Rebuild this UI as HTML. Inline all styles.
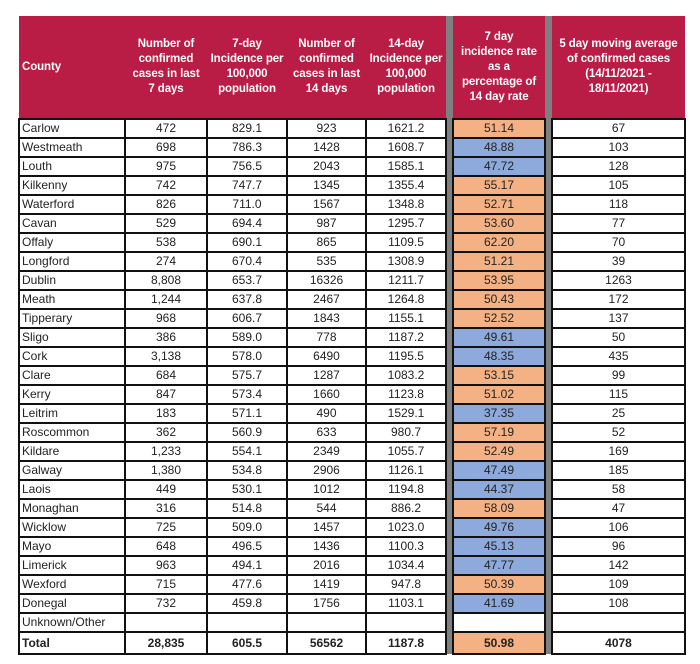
<!DOCTYPE html>
<html><head><style>
body{margin:0;background:#fff;width:700px;height:664px;overflow:hidden;font-family:"Liberation Sans",Arial,sans-serif;}
table{position:absolute;left:18px;top:16px;border-collapse:collapse;table-layout:fixed;width:666px;}
th{background:#B91C45;color:#fff;font-weight:bold;font-size:11.5px;line-height:15px;height:102px;padding:0;border:none;text-align:center;letter-spacing:-0.1px;}
th.c{text-align:left;padding-left:3px;}
td{border:2px solid #111;height:17px;font-size:12px;color:#222;text-align:center;padding:0;line-height:17px;}
td.n{text-align:left;padding-left:2px;}
td.g,th.g{background:#7f7f7f;border-top:none;border-bottom:none;}
td.o{background:#F4B183;}
td.b{background:#8EA9DB;}
tr.t td{font-weight:bold;height:20px;}
</style></head><body>
<table>
<colgroup><col style="width:106px"><col style="width:82px"><col style="width:80px"><col style="width:79px"><col style="width:80px"><col style="width:7px"><col style="width:92px"><col style="width:7px"><col style="width:133px"></colgroup>
<tr><th class="c">County</th><th>Number of<br>confirmed<br>cases in last<br>7 days</th><th>7-day<br>Incidence per<br>100,000<br>population</th><th>Number of<br>confirmed<br>cases in last<br>14 days</th><th>14-day<br>Incidence per<br>100,000<br>population</th><th class="g"></th><th>7 day<br>incidence rate<br>as a<br>percentage of<br>14 day rate</th><th class="g"></th><th>5 day moving average<br>of confirmed cases<br>(14/11/2021 -<br>18/11/2021)</th></tr>
<tr><td class="n">Carlow</td><td>472</td><td>829.1</td><td>923</td><td>1621.2</td><td class="g"></td><td class="o">51.14</td><td class="g"></td><td>67</td></tr>
<tr><td class="n">Westmeath</td><td>698</td><td>786.3</td><td>1428</td><td>1608.7</td><td class="g"></td><td class="b">48.88</td><td class="g"></td><td>103</td></tr>
<tr><td class="n">Louth</td><td>975</td><td>756.5</td><td>2043</td><td>1585.1</td><td class="g"></td><td class="b">47.72</td><td class="g"></td><td>128</td></tr>
<tr><td class="n">Kilkenny</td><td>742</td><td>747.7</td><td>1345</td><td>1355.4</td><td class="g"></td><td class="o">55.17</td><td class="g"></td><td>105</td></tr>
<tr><td class="n">Waterford</td><td>826</td><td>711.0</td><td>1567</td><td>1348.8</td><td class="g"></td><td class="o">52.71</td><td class="g"></td><td>118</td></tr>
<tr><td class="n">Cavan</td><td>529</td><td>694.4</td><td>987</td><td>1295.7</td><td class="g"></td><td class="o">53.60</td><td class="g"></td><td>77</td></tr>
<tr><td class="n">Offaly</td><td>538</td><td>690.1</td><td>865</td><td>1109.5</td><td class="g"></td><td class="o">62.20</td><td class="g"></td><td>70</td></tr>
<tr><td class="n">Longford</td><td>274</td><td>670.4</td><td>535</td><td>1308.9</td><td class="g"></td><td class="o">51.21</td><td class="g"></td><td>39</td></tr>
<tr><td class="n">Dublin</td><td>8,808</td><td>653.7</td><td>16326</td><td>1211.7</td><td class="g"></td><td class="o">53.95</td><td class="g"></td><td>1263</td></tr>
<tr><td class="n">Meath</td><td>1,244</td><td>637.8</td><td>2467</td><td>1264.8</td><td class="g"></td><td class="o">50.43</td><td class="g"></td><td>172</td></tr>
<tr><td class="n">Tipperary</td><td>968</td><td>606.7</td><td>1843</td><td>1155.1</td><td class="g"></td><td class="o">52.52</td><td class="g"></td><td>137</td></tr>
<tr><td class="n">Sligo</td><td>386</td><td>589.0</td><td>778</td><td>1187.2</td><td class="g"></td><td class="b">49.61</td><td class="g"></td><td>50</td></tr>
<tr><td class="n">Cork</td><td>3,138</td><td>578.0</td><td>6490</td><td>1195.5</td><td class="g"></td><td class="b">48.35</td><td class="g"></td><td>435</td></tr>
<tr><td class="n">Clare</td><td>684</td><td>575.7</td><td>1287</td><td>1083.2</td><td class="g"></td><td class="o">53.15</td><td class="g"></td><td>99</td></tr>
<tr><td class="n">Kerry</td><td>847</td><td>573.4</td><td>1660</td><td>1123.8</td><td class="g"></td><td class="o">51.02</td><td class="g"></td><td>115</td></tr>
<tr><td class="n">Leitrim</td><td>183</td><td>571.1</td><td>490</td><td>1529.1</td><td class="g"></td><td class="b">37.35</td><td class="g"></td><td>25</td></tr>
<tr><td class="n">Roscommon</td><td>362</td><td>560.9</td><td>633</td><td>980.7</td><td class="g"></td><td class="o">57.19</td><td class="g"></td><td>52</td></tr>
<tr><td class="n">Kildare</td><td>1,233</td><td>554.1</td><td>2349</td><td>1055.7</td><td class="g"></td><td class="o">52.49</td><td class="g"></td><td>169</td></tr>
<tr><td class="n">Galway</td><td>1,380</td><td>534.8</td><td>2906</td><td>1126.1</td><td class="g"></td><td class="b">47.49</td><td class="g"></td><td>185</td></tr>
<tr><td class="n">Laois</td><td>449</td><td>530.1</td><td>1012</td><td>1194.8</td><td class="g"></td><td class="b">44.37</td><td class="g"></td><td>58</td></tr>
<tr><td class="n">Monaghan</td><td>316</td><td>514.8</td><td>544</td><td>886.2</td><td class="g"></td><td class="o">58.09</td><td class="g"></td><td>47</td></tr>
<tr><td class="n">Wicklow</td><td>725</td><td>509.0</td><td>1457</td><td>1023.0</td><td class="g"></td><td class="b">49.76</td><td class="g"></td><td>106</td></tr>
<tr><td class="n">Mayo</td><td>648</td><td>496.5</td><td>1436</td><td>1100.3</td><td class="g"></td><td class="b">45.13</td><td class="g"></td><td>96</td></tr>
<tr><td class="n">Limerick</td><td>963</td><td>494.1</td><td>2016</td><td>1034.4</td><td class="g"></td><td class="b">47.77</td><td class="g"></td><td>142</td></tr>
<tr><td class="n">Wexford</td><td>715</td><td>477.6</td><td>1419</td><td>947.8</td><td class="g"></td><td class="o">50.39</td><td class="g"></td><td>109</td></tr>
<tr><td class="n">Donegal</td><td>732</td><td>459.8</td><td>1756</td><td>1103.1</td><td class="g"></td><td class="b">41.69</td><td class="g"></td><td>108</td></tr>
<tr><td class="n">Unknown/Other</td><td></td><td></td><td></td><td></td><td class="g"></td><td></td><td class="g"></td><td></td></tr>
<tr class="t"><td class="n">Total</td><td>28,835</td><td>605.5</td><td>56562</td><td>1187.8</td><td class="g"></td><td class="o">50.98</td><td class="g"></td><td>4078</td></tr>
</table>
</body></html>
